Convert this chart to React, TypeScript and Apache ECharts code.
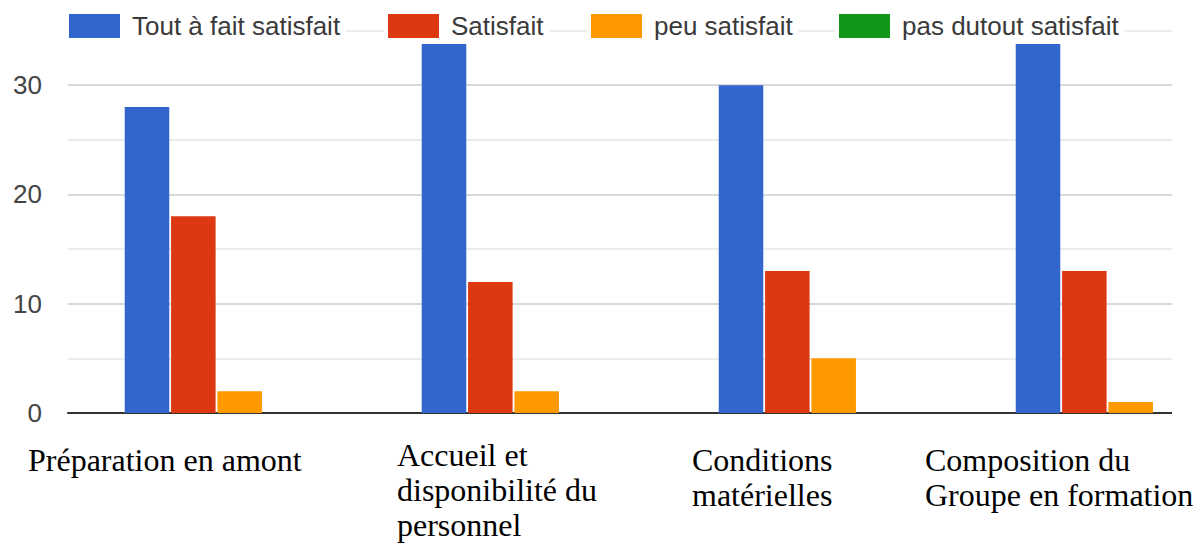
import React, { useEffect, useRef } from "react";
import * as echarts from "echarts";

const categories = [
  "Préparation en amont",
  "Accueil et disponibilité du personnel",
  "Conditions matérielles",
  "Composition du Groupe en formation",
];
const categoryLabelLines = [
  ["Préparation en amont"],
  ["Accueil et", "disponibilité du", "personnel"],
  ["Conditions", "matérielles"],
  ["Composition du", "Groupe en formation"],
];
const seriesNames = ["Tout à fait satisfait", "Satisfait", "peu satisfait", "pas dutout satisfait"];
const toutAFait = [28, 34, 30, 34];
const satisfait = [18, 12, 13, 13];
const peuSatisfait = [2, 2, 5, 1];
const pasDuTout = [0, 0, 0, 0];
const yTicks = [0, 10, 20, 30];

const colors = ["#3366cc", "#dc3912", "#ff9900", "#109618"];
const legendLefts = [65, 384, 587, 835];
const labelPos = [
  [28, 442],
  [397, 437],
  [692, 442],
  [925, 442],
];

export default function App() {
  const ref = useRef<HTMLDivElement>(null);
  useEffect(() => {
    if (!ref.current) return;
    const chart = echarts.init(ref.current, undefined, { renderer: "svg" });
    const values = [toutAFait, satisfait, peuSatisfait, pasDuTout];
    chart.setOption({
      animation: false,
      backgroundColor: "#ffffff",
      legend: seriesNames.map((n, i) => ({
        data: [{ name: n, icon: "rect" }],
        left: legendLefts[i],
        top: 11,
        padding: [2, 6, 5, 4],
        backgroundColor: "#ffffff",
        itemWidth: 51,
        itemHeight: 24,
        itemStyle: { borderWidth: 0 },
        selectedMode: false,
        textStyle: {
          fontFamily: "Liberation Sans",
          fontSize: 26,
          lineHeight: 26,
          color: "#3a3a3a",
          padding: [0, 0, 0, 7],
        },
      })),
      grid: { left: 68, right: 4, top: 30.6, bottom: 132 },
      xAxis: {
        type: "category",
        data: categories,
        axisLabel: { show: false },
        axisTick: { show: false },
        axisLine: { lineStyle: { color: "#333333", width: 2 } },
        splitLine: { show: false },
      },
      yAxis: {
        type: "value",
        min: 0,
        max: 35,
        interval: 5,
        axisLine: { show: false },
        axisTick: { show: false },
        axisLabel: {
          margin: 26,
          fontFamily: "Liberation Sans",
          fontSize: 26,
          color: "#444444",
          formatter: (v: number) => (yTicks.includes(v) ? String(v) : ""),
        },
        splitLine: { lineStyle: { color: ["#cccccc", "#e6e6e6"], width: 1.5 } },
      },
      series: seriesNames.map((n, i) => ({
        name: n,
        type: "bar",
        data: values[i],
        barCategoryGap: "38.2%",
        barGap: "4%",
        itemStyle: { color: colors[i] },
      })),
      graphic: [
        {
          type: "rect",
          z: 10,
          shape: { x: 1172, y: 0, width: 120, height: 425 },
          style: { fill: "#ffffff" },
        },
        ...categoryLabelLines.map((lines, i) => ({
          type: "text",
          z: 11,
          x: labelPos[i][0],
          y: labelPos[i][1],
          style: {
            text: lines.join("\n"),
            font: '32px "Liberation Serif"',
            fill: "#000000",
            lineHeight: 35,
            align: "left",
            verticalAlign: "top",
          },
        })),
      ],
    });
    return () => chart.dispose();
  }, []);
  return (
    <div style={{ position: "absolute", left: 0, top: 0, width: 1200, height: 545, overflow: "hidden", background: "#fff" }}>
      <div ref={ref} style={{ width: 1260, height: 545 }} />
    </div>
  );
}
